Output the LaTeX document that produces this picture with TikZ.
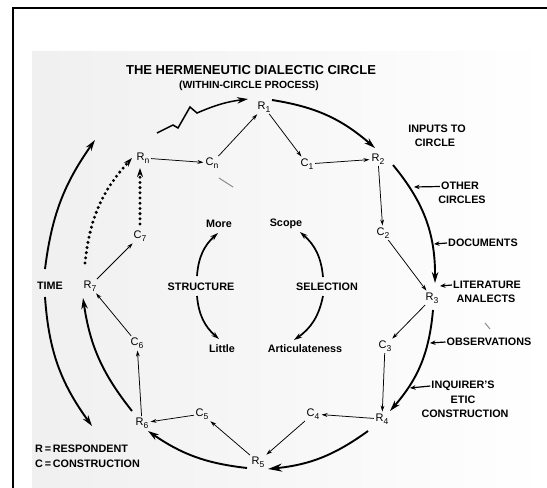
\documentclass[tikz,border=0pt]{standalone}
\usepackage{fontspec}
\setmainfont{Liberation Sans}
\usetikzlibrary{arrows.meta}
\newcommand\lsub[1]{\raisebox{-0.5ex}{\fontsize{8.5}{8.5}\selectfont #1}}
\begin{document}
\begin{tikzpicture}[x=1pt,y=-1pt,
  lab/.style={font=\fontsize{10.8}{12}\selectfont\bfseries, inner sep=1pt},
  nd/.style={font=\fontsize{11}{12}\selectfont, inner sep=1.5pt},
  thinarr/.style={line width=0.75pt, -{Stealth[length=6pt,width=3.8pt]}, shorten >=0.5pt},
  bigarr/.style={line width=1.9pt, -{Stealth[length=11pt,width=6.5pt]}},
  inarr/.style={line width=1.2pt, -{Stealth[length=5.5pt,width=4.5pt]}},
  midarr/.style={line width=1.7pt, -{Stealth[length=8pt,width=5pt]}},
  dotarr/.style={line width=3.3pt, line cap=round, dash pattern=on 0pt off 5.2pt, -{Stealth[length=9pt,width=6pt]}},
  stray/.style={line width=1pt, black!45}
]
\useasboundingbox (0,0) rectangle (547,488);
\shade[left color=black!6, right color=white] (32,51) rectangle (547,488);
\draw[line width=2.4pt] (547,8) -- (13,8) -- (13,488);

% titles
\node[font=\fontsize{13}{14}\selectfont\bfseries, inner sep=0pt] (t1) at (251,70) {THE HERMENEUTIC DIALECTIC CIRCLE};
\node[font=\fontsize{10.4}{11}\selectfont\bfseries, inner sep=0pt] (t2) at (249,86) {(WITHIN-CIRCLE PROCESS)};

% respondents and constructions
\node[nd] (R1) at (264,107) {R\lsub{1}};
\node[nd] (C1) at (307,164) {C\lsub{1}};
\node[nd] (R2) at (378,159) {R\lsub{2}};
\node[nd] (C2) at (383,233) {C\lsub{2}};
\node[nd] (R3) at (432,298) {R\lsub{3}};
\node[nd] (C3) at (385,346) {C\lsub{3}};
\node[nd] (R4) at (382,419) {R\lsub{4}};
\node[nd] (C4) at (313,414) {C\lsub{4}};
\node[nd] (R5) at (258,462) {R\lsub{5}};
\node[nd] (C5) at (202,414) {C\lsub{5}};
\node[nd] (R6) at (142,423) {R\lsub{6}};
\node[nd] (C6) at (137,343) {C\lsub{6}};
\node[nd] (R7) at (90,286) {R\lsub{7}};
\node[nd] (C7) at (140,236) {C\lsub{7}};
\node[nd] (Rn) at (143,158) {R\lsub{n}};
\node[nd] (Cn) at (212,163) {C\lsub{n}};

% thin connectors
\draw[thinarr] (Cn) -- (R1);
\draw[thinarr] (R1) -- (C1);
\draw[thinarr] (C1) -- (R2);
\draw[thinarr] (R2) -- (C2);
\draw[thinarr] (C2) -- (R3);
\draw[thinarr] (R3) -- (C3);
\draw[thinarr] (C3) -- (R4);
\draw[thinarr] (R4) -- (C4);
\draw[thinarr] (C4) -- (R5);
\draw[thinarr] (R5) -- (C5);
\draw[thinarr] (C5) -- (R6);
\draw[thinarr] (R6) -- (C6);
\draw[thinarr] (C6) -- (R7);
\draw[thinarr] (R7) -- (C7);
\draw[thinarr] (Rn) -- (Cn);
\draw[dotarr] ([shift={(0,-12)}]C7.center) -- ([shift={(-3,10)}]Rn.center);

% outer circle arcs
\draw[bigarr] ([shift={(8,-7)}]R1.center) to[bend left=16] ([shift={(-3,-11)}]R2.center);
\draw[bigarr] ([shift={(15,6)}]R2.center) to[bend left=20] ([shift={(3,-15)}]R3.center);
\draw[bigarr] ([shift={(1,12)}]R3.center) to[bend left=18] ([shift={(8,-8)}]R4.center);
\draw[bigarr, -{Stealth[length=14pt,width=8pt]}] ([shift={(-14,12)}]R4.center) to[bend left=15] ([shift={(10,7)}]R5.center);
\draw[bigarr] ([shift={(-11,6)}]R5.center) to[bend left=14] ([shift={(6,8)}]R6.center);
\draw[bigarr] ([shift={(-10,-12)}]R6.center) to[bend left=15] ([shift={(-7,12)}]R7.center);
\draw[dotarr] ([shift={(-5,-23)}]R7.center) to[bend left=18] ([shift={(-11,0)}]Rn.center);
\draw[bigarr, line width=1.5pt] ([shift={(14,-25)}]Rn.center) -- ++(16,-8) -- ++(5,3) -- ++(12,-21) -- ++(7,6)
   to[bend left=8] ([shift={(-16,-8)}]R1.center);

% time
\node[lab] (TIME) at (50,286) {TIME};
\coordinate (ttop) at (95,140);
\coordinate (tbot) at (92,426);
\draw[bigarr] ([shift={(-5,-17)}]TIME.center) to[bend left=14] (ttop);
\draw[bigarr] ([shift={(-5,11)}]TIME.center) to[bend right=16] (tbot);

% legend
\node[lab, anchor=west] (leg1) at (34,449) {R\,=\,RESPONDENT};
\node[lab, anchor=west] (leg2) at (34,464) {C\,=\,CONSTRUCTION};

% inputs
\node[lab] (inp1) at (437,129) {INPUTS TO};
\node[lab] (inp2) at (435,143) {CIRCLE};
\node[lab] (oth1) at (460,186) {OTHER};
\node[lab] (oth2) at (462,200) {CIRCLES};
\node[lab] (doc) at (483,243) {DOCUMENTS};
\node[lab] (lit1) at (487,285) {LITERATURE};
\node[lab] (lit2) at (486,299) {ANALECTS};
\node[lab] (obs) at (489,342) {OBSERVATIONS};
\node[lab] (inq1) at (463,386) {INQUIRER'S};
\node[lab] (inq2) at (463,400) {ETIC};
\node[lab] (inq3) at (465,414) {CONSTRUCTION};
\coordinate (a1) at (414,187);
\coordinate (a2) at (434,244);
\coordinate (a3) at (440,286);
\coordinate (a4) at (430,343);
\coordinate (a5) at (410,388);
\draw[inarr] ([yshift=-0.5pt]oth1.west) -- (a1);
\draw[inarr] (doc.west) -- (a2);
\draw[inarr] (lit1.west) -- (a3);
\draw[inarr] (obs.west) -- (a4);
\draw[inarr] (inq1.west) -- (a5);

% centre
\node[lab] (More) at (219,224) {More};
\node[lab] (Scope) at (286,224) {Scope};
\node[lab] (STR) at (201,287) {STRUCTURE};
\node[lab] (SEL) at (327,287) {SELECTION};
\node[lab] (Little) at (222,349) {Little};
\node[lab] (Art) at (305,349) {Articulateness};
\draw[midarr] ([shift={(-4,-11)}]STR.center) to[bend left=22] ([shift={(-1,9)}]More.center);
\draw[midarr] ([shift={(-4,9)}]STR.center) to[bend right=22] ([shift={(-3,-10)}]Little.center);
\draw[midarr] ([shift={(-4,-10)}]SEL.center) to[bend right=22] ([shift={(14,8)}]Scope.center);
\draw[midarr] ([shift={(-4,9)}]SEL.center) to[bend left=22] ([shift={(-11,-9)}]Art.center);

% stray marks of the print
\draw[stray] (219,178) -- (233,187);
\draw[stray] (485,323) -- (490,329);
\end{tikzpicture}
\end{document}
